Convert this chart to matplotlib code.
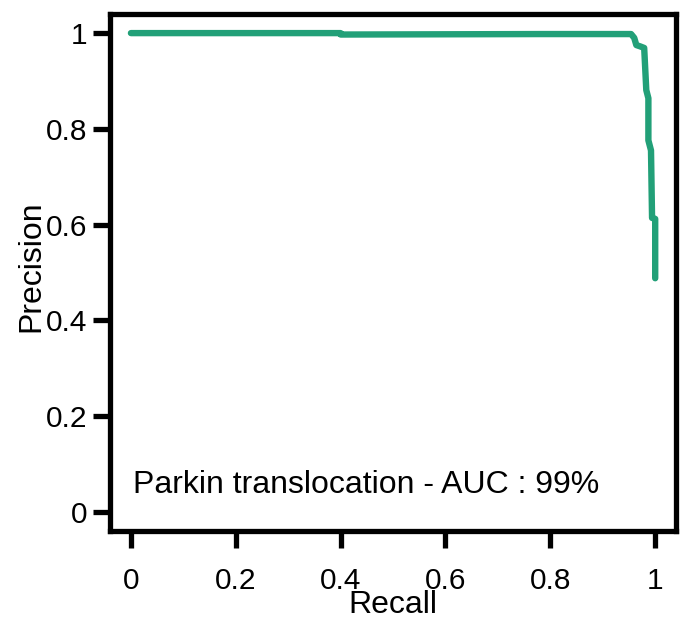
import matplotlib.pyplot as plt

plt.rcParams['font.family'] = ['Liberation Sans', 'DejaVu Sans']

# precision-recall curve
recall = [0.0, 0.40, 0.40, 0.78, 0.954, 0.960, 0.964, 0.972, 0.979, 0.983,
          0.987, 0.987, 0.992, 0.994, 1.0, 1.0]
precision = [1.0, 1.0, 0.997, 0.998, 0.998, 0.99, 0.975, 0.972, 0.969, 0.881,
             0.864, 0.776, 0.755, 0.614, 0.612, 0.488]
ticks = [0, 0.2, 0.4, 0.6, 0.8, 1]
tick_labels = ['0', '0.2', '0.4', '0.6', '0.8', '1']
label_text = 'Parkin translocation - AUC : 99%'

fig = plt.figure(figsize=(6.83, 6.20), dpi=100)
ax = fig.add_axes([0.161, 0.1435, 0.829, 0.834])

ax.plot(recall, precision, color='#22a078', lw=4.6,
        solid_capstyle='round', solid_joinstyle='round')

ax.set_xlim(-0.04, 1.04)
ax.set_ylim(-0.04, 1.04)

for s in ax.spines.values():
    s.set_linewidth(3.8)

ax.set_xticks(ticks)
ax.set_xticklabels(tick_labels)
ax.set_yticks(ticks)
ax.set_yticklabels(tick_labels)
ax.tick_params(axis='both', length=12, width=3.8, labelsize=21.5, direction='out')
ax.tick_params(axis='x', pad=14)
ax.tick_params(axis='y', pad=4)

ax.set_xlabel('Recall', fontsize=23, labelpad=-4)
ax.set_ylabel('Precision', fontsize=23)
ax.yaxis.set_label_coords(-0.113, 0.513)

ax.text(0.004, 0.057, label_text, fontsize=23, ha='left', va='center')

fig.savefig('out.png', dpi=100)
